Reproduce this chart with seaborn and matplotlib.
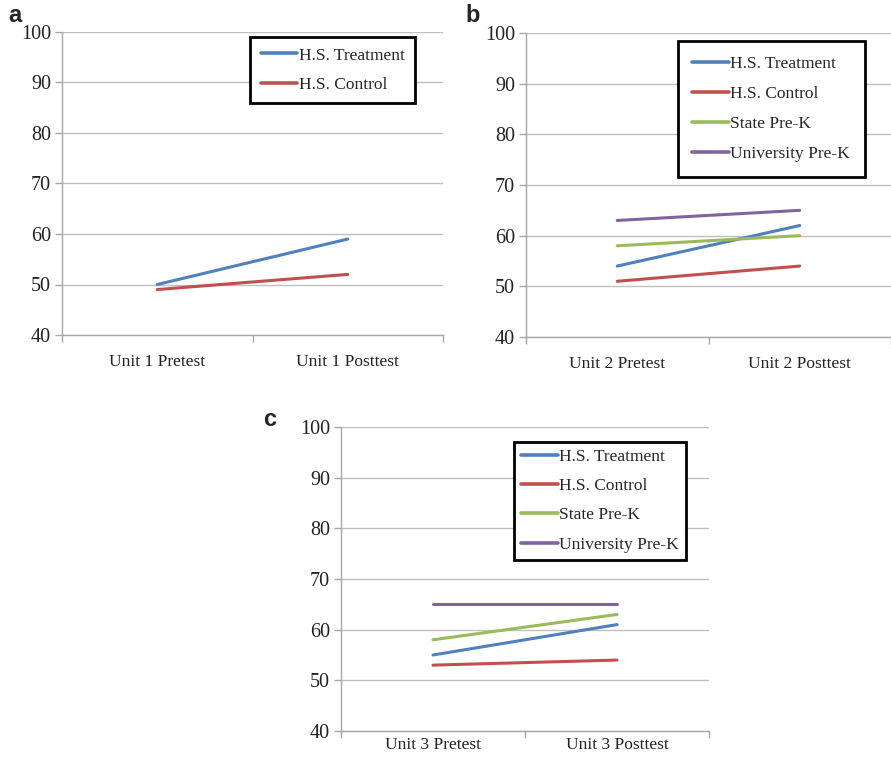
import pandas as pd
import matplotlib
matplotlib.use("Agg")
import matplotlib.pyplot as plt
import seaborn as sns
from matplotlib.lines import Line2D

groups = ["H.S. Treatment", "H.S. Control", "State Pre-K", "University Pre-K"]
colors = ["#4F81BD", "#C0504D", "#9BBB59", "#8064A2"]

a_tests = ["Unit 1 Pretest", "Unit 1 Posttest"]
a_treatment = [50, 59]
a_control = [49, 52]

b_tests = ["Unit 2 Pretest", "Unit 2 Posttest"]
b_treatment = [54, 62]
b_control = [51, 54]
b_state = [58, 60]
b_university = [63, 65]

c_tests = ["Unit 3 Pretest", "Unit 3 Posttest"]
c_treatment = [55, 61]
c_control = [53, 54]
c_state = [58, 63]
c_university = [65, 65]

sns.set_theme(style="white")
plt.rcParams["font.family"] = ["Liberation Serif", "DejaVu Serif"]

fig = plt.figure(figsize=(8.91, 7.61), dpi=100)


def to_long(tests, series):
    rows = []
    for name, vals in series:
        for t, v in zip(tests, vals):
            rows.append({"test": t, "score": v, "group": name})
    return pd.DataFrame(rows)


def panel(rect, tests, series, letter, letter_pos, legend_anchor, xpad=14,
          bpad=0.6, lspace=0.75):
    ax = fig.add_axes(rect)
    df = to_long(tests, series)
    names = [s[0] for s in series]
    pal = {g: c for g, c in zip(groups, colors) if g in names}
    sns.lineplot(data=df, x="test", y="score", hue="group", palette=pal,
                 linewidth=2.2, ax=ax, legend=False, sort=False)
    ax.set_xlim(-0.5, 1.5)
    ax.set_ylim(40, 100)
    ax.set_yticks(range(40, 101, 10))
    ax.set_xticks([0, 1])
    ax.set_xticklabels(tests, fontsize=12.5, color="#222222")
    ax.set_xticks([-0.5, 0.5, 1.5], minor=True)
    ax.tick_params(axis="x", which="major", length=0, pad=xpad)
    ax.tick_params(axis="x", which="minor", length=5, color="#A6A6A6", width=1, direction="out", bottom=True)
    ax.tick_params(axis="y", length=5, color="#A6A6A6", width=1, labelsize=14.5, pad=3, left=True,
                   labelcolor="#222222")
    ax.set_xlabel("")
    ax.set_ylabel("")
    ax.yaxis.grid(True, color="#C0C0C0", linewidth=1)
    ax.set_axisbelow(True)
    for s in ["top", "right"]:
        ax.spines[s].set_visible(False)
    for s in ["left", "bottom"]:
        ax.spines[s].set_color("#A6A6A6")
        ax.spines[s].set_linewidth(1)
    handles = [Line2D([], [], color=pal[n], linewidth=2.6) for n in names]
    leg = ax.legend(handles, names, loc="upper right", bbox_to_anchor=legend_anchor,
                    fontsize=12.5, frameon=True, fancybox=False, framealpha=1,
                    handlelength=2.1, handletextpad=0.1, borderpad=bpad,
                    labelspacing=lspace, borderaxespad=0)
    leg.get_frame().set_edgecolor("black")
    leg.get_frame().set_linewidth(2)
    fig.text(letter_pos[0], letter_pos[1], letter, fontsize=17, fontweight="bold",
             family="Liberation Sans", ha="left", va="center")
    return ax


panel([62 / 891, 1 - 335 / 761, 381 / 891, 303 / 761], a_tests,
      [("H.S. Treatment", a_treatment), ("H.S. Control", a_control)],
      "a", (8 / 891, 1 - 16 / 761), ((415 - 62) / 381, 1 - 5 / 303))

panel([526 / 891, 1 - 337 / 761, 365 / 891, 304 / 761], b_tests,
      [("H.S. Treatment", b_treatment), ("H.S. Control", b_control),
       ("State Pre-K", b_state), ("University Pre-K", b_university)],
      "b", (465 / 891, 1 - 16 / 761), ((865 - 526) / 365, 1 - 8 / 304),
      bpad=0.85, lspace=0.8)

panel([341 / 891, 1 - 731 / 761, 368 / 891, 304 / 761], c_tests,
      [("H.S. Treatment", c_treatment), ("H.S. Control", c_control),
       ("State Pre-K", c_state), ("University Pre-K", c_university)],
      "c", (263 / 891, 1 - 420 / 761), ((686 - 341) / 368, 1 - 15 / 304),
      xpad=4, bpad=0.4, lspace=0.75)

fig.savefig("out.png", dpi=100, facecolor="white")
